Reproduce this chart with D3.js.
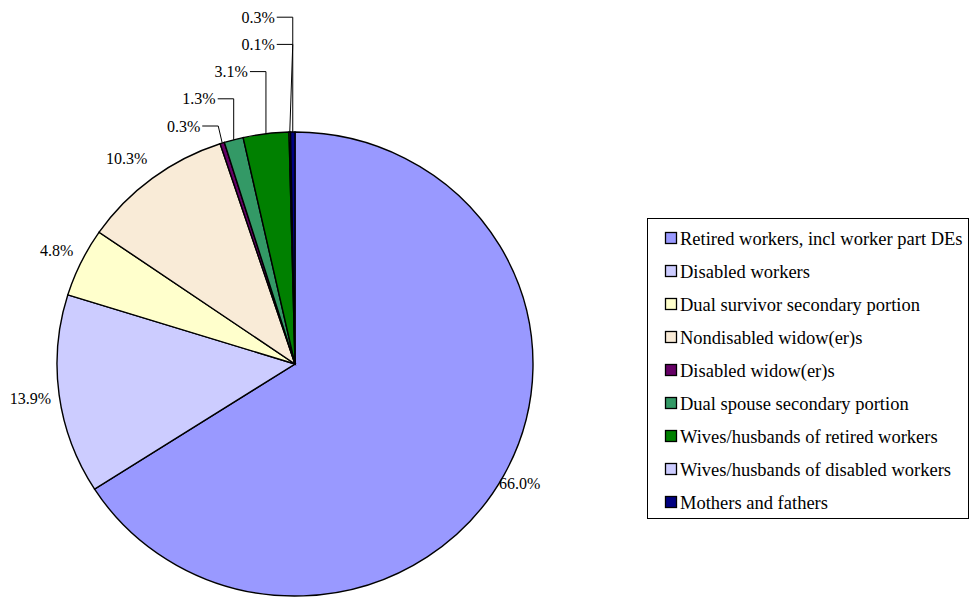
<!DOCTYPE html>
<html><head><meta charset="utf-8">
<script src="https://cdn.jsdelivr.net/npm/d3@7"></script>
<style>body{margin:0;background:#fff}svg{display:block}</style>
</head><body>
<script>
const categories = ["Retired workers, incl worker part DEs","Disabled workers","Dual survivor secondary portion","Nondisabled widow(er)s","Disabled widow(er)s","Dual spouse secondary portion","Wives/husbands of retired workers","Wives/husbands of disabled workers","Mothers and fathers"];
const values = [66.0,13.9,4.8,10.3,0.3,1.3,3.1,0.1,0.3];
const labels = ["66.0%","13.9%","4.8%","10.3%","0.3%","1.3%","3.1%","0.1%","0.3%"];
const colors = ["#9999FF","#CCCCFF","#FFFFCC","#F9EBD7","#660066","#339966","#008000","#CCCCFF","#000080"];

const W=969,H=597;
const FONT="'Liberation Serif','DejaVu Serif','Times New Roman',Times,serif";
const svg=d3.select("body").append("svg").attr("width",W).attr("height",H)
  .attr("font-family",FONT);
const cx=295, cy=364, rx=238, ry=232;
const sy=ry/rx;
const pie=d3.pie().sort(null).value(d=>d)(values);
const arc=d3.arc().innerRadius(0).outerRadius(rx);
const g=svg.append("g").attr("transform",`translate(${cx},${cy}) scale(1,${sy})`);
g.selectAll("path").data(pie).join("path").attr("d",arc)
 .attr("fill",(d,i)=>colors[i]).attr("stroke","#000").attr("stroke-width",1.4)
 .attr("vector-effect","non-scaling-stroke");

function pt(a,r){return [cx+r*Math.sin(a), cy-r*Math.cos(a)*sy];}
const fs=16, lfs=18.5;
const big=[0,1,2,3];
const labR=[256,267,265,270];
const labA=[0,0,0,-0.03];
big.forEach((i,k)=>{
  const d=pie[i]; const a=(d.startAngle+d.endAngle)/2+labA[k];
  const p=[cx+labR[k]*Math.sin(a), cy-labR[k]*Math.cos(a)*0.975];
  svg.append("text").attr("x",p[0]).attr("y",p[1]).attr("text-anchor","middle")
    .attr("dominant-baseline","central").attr("font-family",FONT).attr("font-size",fs).text(labels[i]);
});
const small=[4,5,6,7,8];
const topY=cy-ry;
small.forEach((i,k)=>{
  const d=pie[i]; const a=(d.startAngle+d.endAngle)/2;
  const p=pt(a,rx);
  const ly=topY-6-27.2*k;
  let ex=(i===7)?pt((pie[8].startAngle+pie[8].endAngle)/2,rx)[0]:p[0];
  if(i===4) ex-=4;
  svg.append("path").attr("d",`M${ex-16},${ly}H${ex}L${p[0]},${p[1]}`)
    .attr("fill","none").attr("stroke","#000").attr("stroke-width",1);
  svg.append("text").attr("x",ex-18).attr("y",ly).attr("text-anchor","end")
    .attr("dominant-baseline","central").attr("font-family",FONT).attr("font-size",fs).text(labels[i]);
});
const lg=svg.append("g");
lg.append("rect").attr("x",647.5).attr("y",218.5).attr("width",321).attr("height",300)
  .attr("fill","#fff").attr("stroke","#000").attr("stroke-width",1);
categories.forEach((c,i)=>{
  const y=238+33*i;
  lg.append("rect").attr("x",665.5).attr("y",y-5.5).attr("width",11).attr("height",11)
    .attr("fill",colors[i]).attr("stroke","#000").attr("stroke-width",1.3);
  lg.append("text").attr("x",680).attr("y",y+1).attr("dominant-baseline","central")
    .attr("font-family",FONT).attr("font-size",lfs).text(c);
});
</script>
</body></html>
